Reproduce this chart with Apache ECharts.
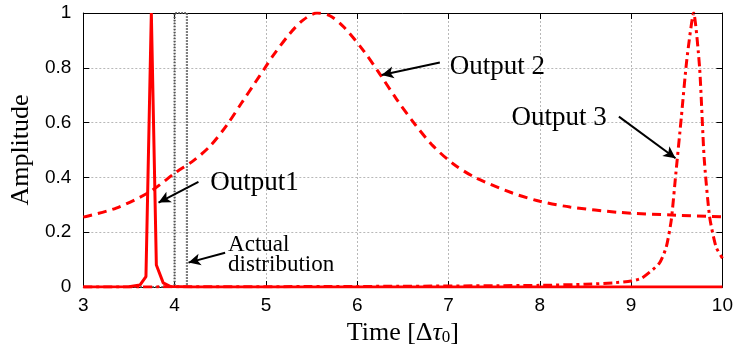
<!DOCTYPE html>
<html><head><meta charset="utf-8">
<script src="https://cdn.jsdelivr.net/npm/echarts@6/dist/echarts.min.js"></script>
<style>html,body{margin:0;padding:0;background:#fff}#c{width:736px;height:351px}</style>
</head><body><div id="c"></div>
<script>
// ---- data ----
const xTicks = [3, 4, 5, 6, 7, 8, 9, 10];
const yTickLabels = ['0', '0.2', '0.4', '0.6', '0.8', '1'];

const out1T = [3.0, 3.5, 3.62, 3.686, 3.745, 3.80, 3.875, 3.95, 4.2, 10.0];
const out1V = [0.0, 0.001, 0.007, 0.038, 1.0, 0.08, 0.015, 0.002, 0.0, 0.0];

const out2T = [3.0, 3.36, 3.73, 4.02, 4.21, 4.39, 4.57, 4.74, 4.88, 4.99, 5.08, 5.27, 5.41, 5.56, 5.70, 5.85, 6.07, 6.25, 6.43, 6.63, 6.83, 7.05, 7.29, 7.7, 8.0, 8.33, 8.88, 9.5, 10.0];
const out2V = [0.255, 0.288, 0.348, 0.42, 0.462, 0.515, 0.59, 0.675, 0.745, 0.80, 0.845, 0.928, 0.975, 1.0, 0.99, 0.95, 0.862, 0.776, 0.686, 0.595, 0.515, 0.45, 0.40, 0.343, 0.313, 0.292, 0.272, 0.262, 0.256];

const out3T = [3.0, 6.0, 8.0, 8.5, 8.8, 9.0, 9.12, 9.31, 9.385, 9.44, 9.49, 9.55, 9.61, 9.685, 9.75, 9.80, 9.86, 9.93, 10.0];
const out3V = [0.0, 0.002, 0.006, 0.01, 0.015, 0.022, 0.033, 0.087, 0.146, 0.245, 0.415, 0.62, 0.83, 1.0, 0.80, 0.47, 0.255, 0.146, 0.105];

const actT = [3.0, 4.0, 4.0, 4.135, 4.135, 10.0];
const actV = [0.0, 0.0, 1.0, 1.0, 0.0, 0.0];

// annotations: [text, x, y, size] in data coords; arrows [x1,y1,x2,y2]
const labels = [
  ['Output1', 4.389, 0.380, 27],
  ['Output 2', 7.014, 0.803, 27],
  ['Output 3', 7.689, 0.617, 27],
  ['Actual', 4.586, 0.153, 23],
  ['distribution', 4.586, 0.080, 23]
];
const arrows = [
  [4.261, 0.384, 3.824, 0.308],
  [6.905, 0.819, 6.267, 0.774],
  [8.866, 0.622, 9.486, 0.470],
  [4.553, 0.125, 4.152, 0.089]
];

const zip = (a, b) => a.map((v, i) => [v, b[i]]);
const RED = '#ff0000';
const serif = '"Liberation Serif", "Times New Roman", serif';
const sans = '"Liberation Sans", Arial, sans-serif';

const chart = echarts.init(document.getElementById('c'), null, {renderer: 'canvas'});
const gridLine = {show: true, lineStyle: {color: '#b8b8b8', type: [2, 2], width: 1}};
const axisLine = {show: true, onZero: false, lineStyle: {color: '#000', width: 1}};
const tick = {show: true, inside: true, length: 6, lineStyle: {color: '#000'}};

chart.setOption({
  animation: false,
  backgroundColor: '#fff',
  grid: {left: 83, right: 13, top: 13, bottom: 64, containLabel: false},
  xAxis: [
    {type: 'value', min: 3, max: 10, interval: 1, position: 'bottom',
     axisLine, axisTick: tick, splitLine: gridLine,
     axisLabel: {color: '#000', fontFamily: sans, fontSize: 19, margin: 9},
     name: 'Time [Δ{i|τ}{s|0}]', nameLocation: 'middle', nameGap: 31,
     nameTextStyle: {color: '#000', fontFamily: serif, fontSize: 26,
       rich: {i: {fontFamily: serif, fontSize: 26, fontStyle: 'italic', color: '#000'},
              s: {fontFamily: serif, fontSize: 17, color: '#000', verticalAlign: 'bottom', padding: [8, 0, 0, 0]}}}},
    {type: 'value', min: 3, max: 10, interval: 1, position: 'top',
     axisLine, axisTick: tick, splitLine: {show: false}, axisLabel: {show: false}}
  ],
  yAxis: [
    {type: 'value', min: 0, max: 1, interval: 0.2, position: 'left',
     axisLine, axisTick: tick, splitLine: gridLine,
     axisLabel: {color: '#000', fontFamily: sans, fontSize: 19, margin: 12,
                 formatter: (v, i) => yTickLabels[i]},
     name: 'Amplitude', nameLocation: 'middle', nameGap: 44,
     nameTextStyle: {color: '#000', fontFamily: serif, fontSize: 26}},
    {type: 'value', min: 0, max: 1, interval: 0.2, position: 'right',
     axisLine, axisTick: tick, splitLine: {show: false}, axisLabel: {show: false}}
  ],
  series: [
    {name: 'Actual distribution', type: 'line', data: zip(actT, actV), showSymbol: false, z: 2,
     lineStyle: {color: '#555', width: 2.2, type: [1.5, 1.5]}},
    {name: 'Output 2', type: 'line', data: zip(out2T, out2V), showSymbol: false, smooth: 0.3, z: 3,
     lineStyle: {color: RED, width: 3, type: [9, 6]}},
    {name: 'Output 3', type: 'line', data: zip(out3T, out3V), showSymbol: false, smooth: 0.2, z: 3,
     lineStyle: {color: RED, width: 3, type: [9, 4, 3, 4]}},
    {name: 'Output1', type: 'line', data: zip(out1T, out1V), showSymbol: false, z: 4,
     lineStyle: {color: RED, width: 3}},
    {name: 'arrows', type: 'line', data: [], z: 5,
     markLine: {silent: true, symbol: ['none', 'arrow'], symbolSize: [9, 12], label: {show: false},
       lineStyle: {color: '#000', width: 2, type: 'solid'},
       data: arrows.map(a => [{coord: [a[0], a[1]]}, {coord: [a[2], a[3]]}])}}
  ]
});

const g = labels.map(l => {
  const p = chart.convertToPixel({xAxisIndex: 0, yAxisIndex: 0}, [l[1], l[2]]);
  return {type: 'text', x: p[0], y: p[1], z: 10,
    style: {text: l[0], fill: '#000', font: l[3] + 'px ' + serif, textAlign: 'left', textVerticalAlign: 'middle'}};
});
chart.setOption({graphic: g});
</script></body></html>
